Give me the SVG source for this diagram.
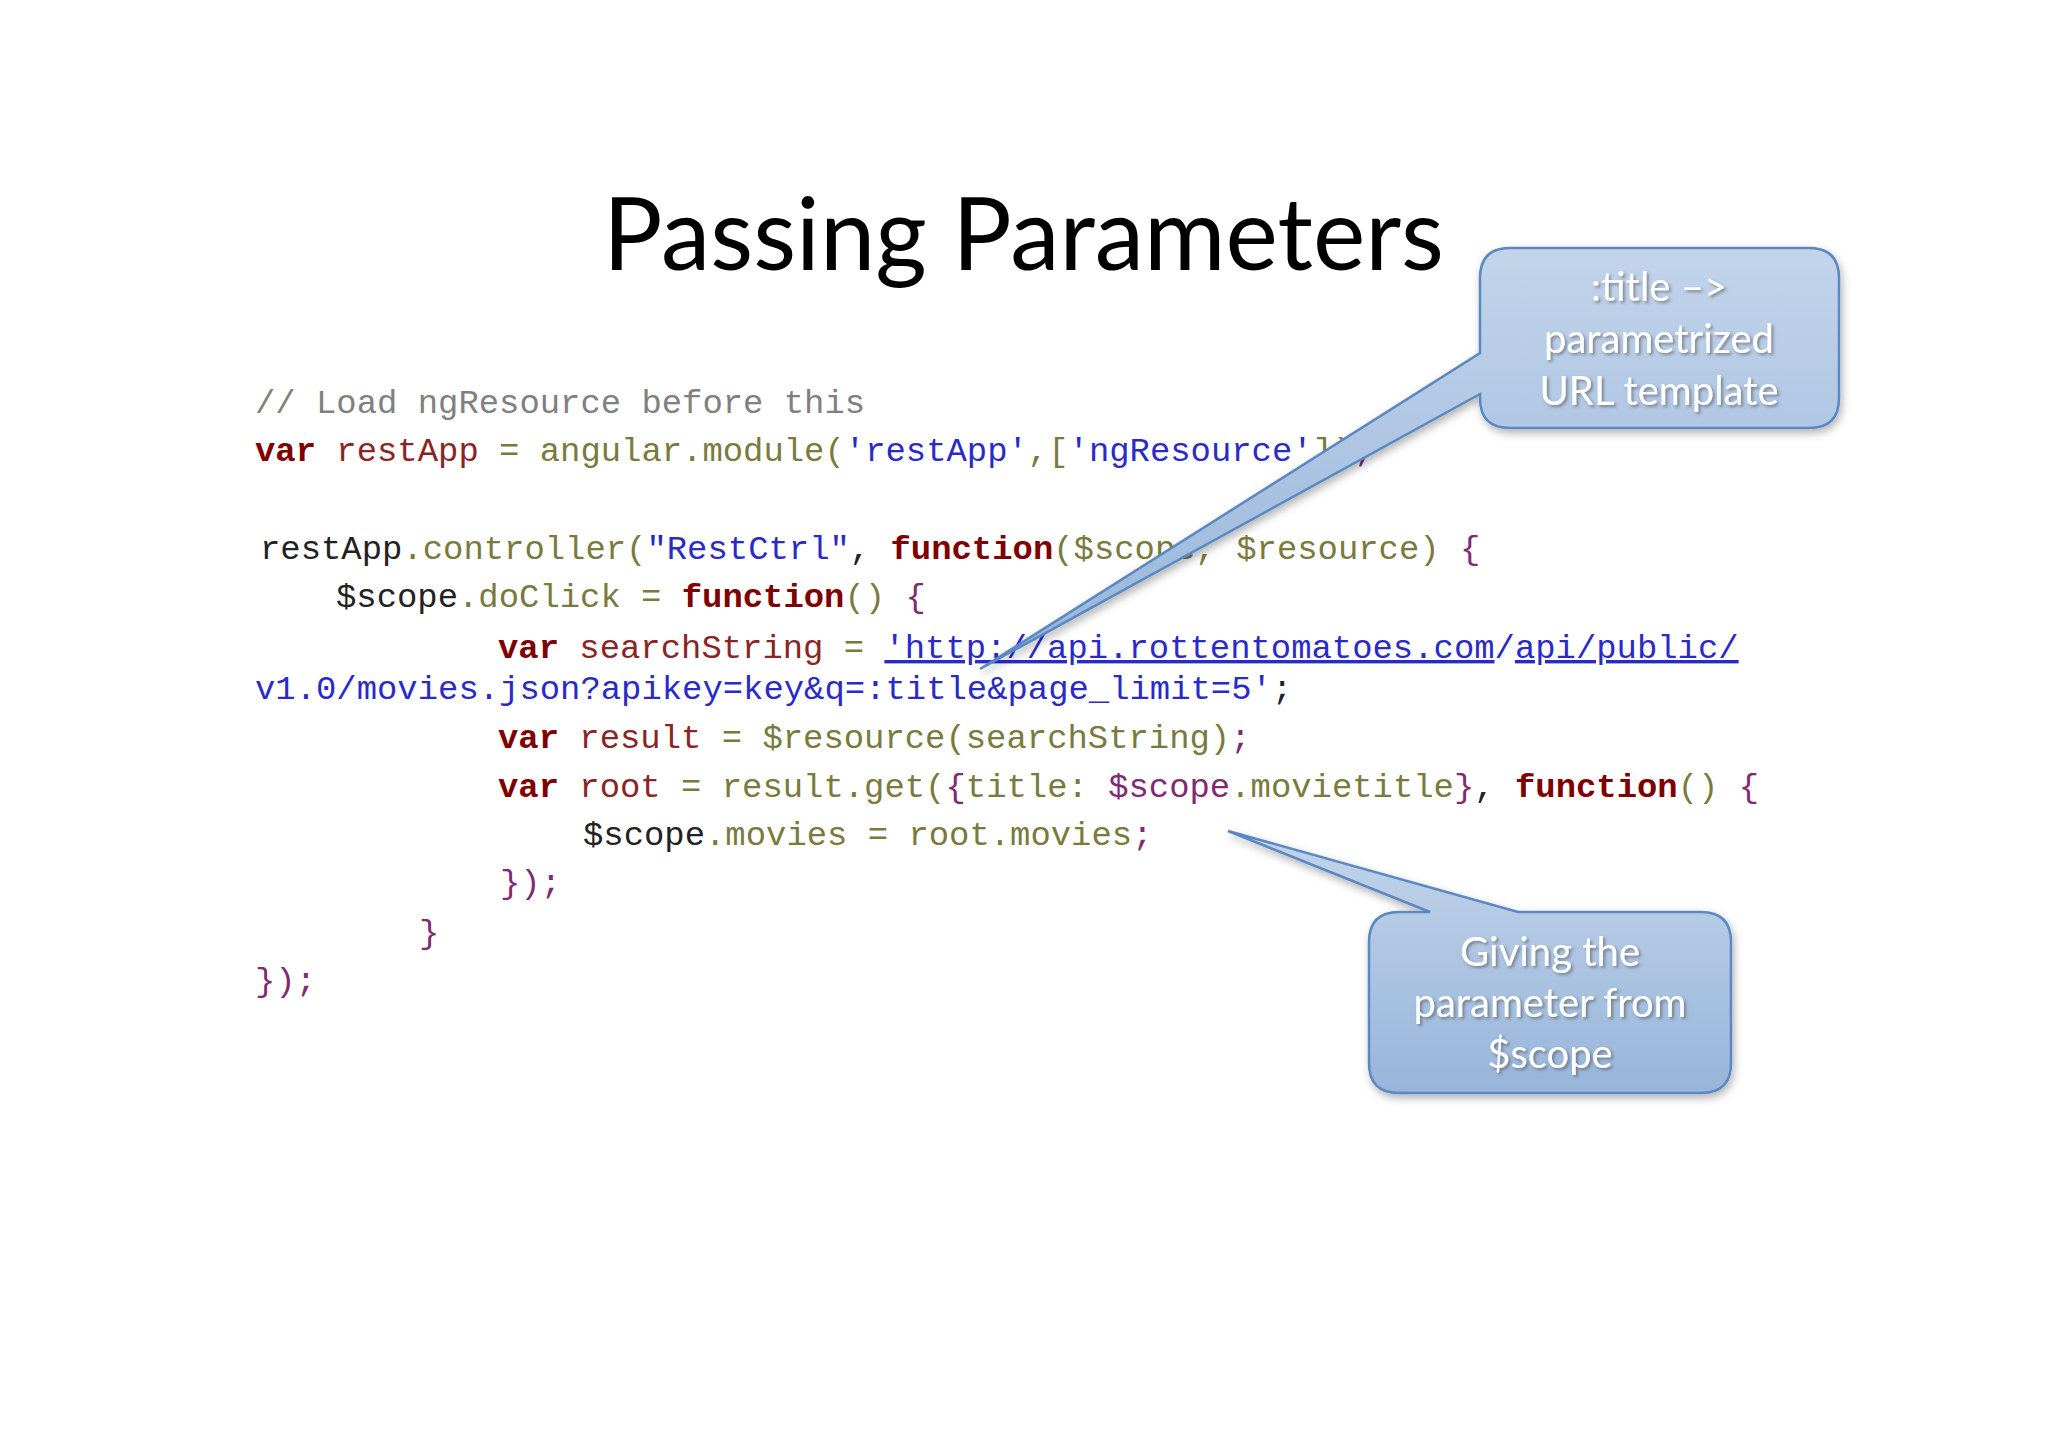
<svg xmlns="http://www.w3.org/2000/svg" width="2048" height="1447" viewBox="0 0 2048 1447">
  <defs>
    <linearGradient id="calloutFill" x1="0" y1="0" x2="0" y2="1">
      <stop offset="0" stop-color="#c3d4ea"/>
      <stop offset="1" stop-color="#97b5da"/>
    </linearGradient>
    <filter id="boxShadow" x="-10%" y="-10%" width="130%" height="130%">
      <feDropShadow dx="2" dy="4" stdDeviation="4" flood-color="#000" flood-opacity="0.3"/>
    </filter>
    <filter id="textShadow" x="-10%" y="-20%" width="130%" height="150%">
      <feDropShadow dx="2" dy="2" stdDeviation="1.5" flood-color="#3a3a3a" flood-opacity="0.5"/>
    </filter>
  </defs>
  <style>
    .title { font-family: Lato, "Liberation Sans", sans-serif; font-size: 100px; fill: #000; }
    .code { font-family: "Liberation Mono", "DejaVu Sans Mono", monospace; font-size: 33.9px; white-space: pre; }
    .cm { fill: #808080; }
    .kw { fill: #7f0000; font-weight: bold; }
    .id { fill: #8b2424; }
    .ol { fill: #7a7a3c; }
    .st { fill: #2a2ac8; }
    .pu { fill: #7f2a72; }
    .bk { fill: #222222; }
    .ul { text-decoration: underline; }
    .callout { fill: url(#calloutFill); stroke: #5a88c2; stroke-width: 2.5; filter: url(#boxShadow); }
    .ctext { font-family: Lato, "Liberation Sans", sans-serif; font-size: 40px; fill: #ffffff; text-anchor: middle; filter: url(#textShadow); }
  </style>
  <rect width="2048" height="1447" fill="#ffffff"/>

  <g id="title">
    <text class="title" x="603" y="270" textLength="841" lengthAdjust="spacingAndGlyphs">Passing Parameters</text>
  </g>

  <g id="code" class="code">
    <text x="255" y="413" xml:space="preserve"><tspan class="cm">// Load ngResource before this</tspan></text>
    <text x="255" y="461" xml:space="preserve"><tspan class="kw">var</tspan><tspan class="id"> restApp</tspan><tspan class="ol"> = angular.module(</tspan><tspan class="st">'restApp'</tspan><tspan class="ol">,[</tspan><tspan class="st">'ngResource'</tspan><tspan class="ol">])</tspan><tspan class="pu">;</tspan></text>
    <text x="260" y="559" xml:space="preserve"><tspan class="bk">restApp</tspan><tspan class="ol">.controller(</tspan><tspan class="st">"RestCtrl"</tspan><tspan class="bk">, </tspan><tspan class="kw">function</tspan><tspan class="ol">($scope, $resource)</tspan><tspan class="pu"> {</tspan></text>
    <text x="336" y="607" xml:space="preserve"><tspan class="bk">$scope</tspan><tspan class="ol">.doClick = </tspan><tspan class="kw">function</tspan><tspan class="ol">()</tspan><tspan class="pu"> {</tspan></text>
    <text x="498" y="658" xml:space="preserve"><tspan class="kw">var</tspan><tspan class="id"> searchString</tspan><tspan class="ol"> = </tspan><tspan class="st ul">'http://api.rottentomatoes.com</tspan><tspan class="st">/</tspan><tspan class="st ul">api/public/</tspan></text>
    <text x="255" y="699" xml:space="preserve"><tspan class="st">v1.0/movies.json?apikey=key&amp;q=:title&amp;page_limit=5'</tspan><tspan class="bk">;</tspan></text>
    <text x="498" y="748" xml:space="preserve"><tspan class="kw">var</tspan><tspan class="id"> result</tspan><tspan class="ol"> = $resource(searchString)</tspan><tspan class="pu">;</tspan></text>
    <text x="498" y="797" xml:space="preserve"><tspan class="kw">var</tspan><tspan class="id"> root</tspan><tspan class="ol"> = result.get(</tspan><tspan class="pu">{</tspan><tspan class="ol">title: </tspan><tspan class="pu">$scope</tspan><tspan class="ol">.movietitle</tspan><tspan class="pu">}</tspan><tspan class="bk">, </tspan><tspan class="kw">function</tspan><tspan class="ol">()</tspan><tspan class="pu"> {</tspan></text>
    <text x="583" y="845" xml:space="preserve"><tspan class="bk">$scope</tspan><tspan class="ol">.movies = root.movies</tspan><tspan class="pu">;</tspan></text>
    <text x="500" y="893" xml:space="preserve"><tspan class="pu">});</tspan></text>
    <text x="419" y="943" xml:space="preserve"><tspan class="pu">}</tspan></text>
    <text x="255" y="991" xml:space="preserve"><tspan class="pu">});</tspan></text>
  </g>

  <g id="callout-url-template">
    <path class="callout" d="M 1510,248 H 1809 Q 1839,248 1839,278 V 398 Q 1839,428 1809,428 H 1510 Q 1480,428 1480,398 V 394 L 980,669 L 1480,353 V 278 Q 1480,248 1510,248 Z"/>
    <text class="ctext" x="1659" y="301">:title –&gt;</text>
    <text class="ctext" x="1659" y="353">parametrized</text>
    <text class="ctext" x="1659" y="405">URL template</text>
  </g>

  <g id="callout-scope">
    <path class="callout" d="M 1399,912 H 1430 L 1228,831 L 1518,912 H 1701 Q 1731,912 1731,942 V 1063 Q 1731,1093 1701,1093 H 1399 Q 1369,1093 1369,1063 V 942 Q 1369,912 1399,912 Z"/>
    <text class="ctext" x="1550" y="966">Giving the</text>
    <text class="ctext" x="1550" y="1017">parameter from</text>
    <text class="ctext" x="1550" y="1068">$scope</text>
  </g>
</svg>
